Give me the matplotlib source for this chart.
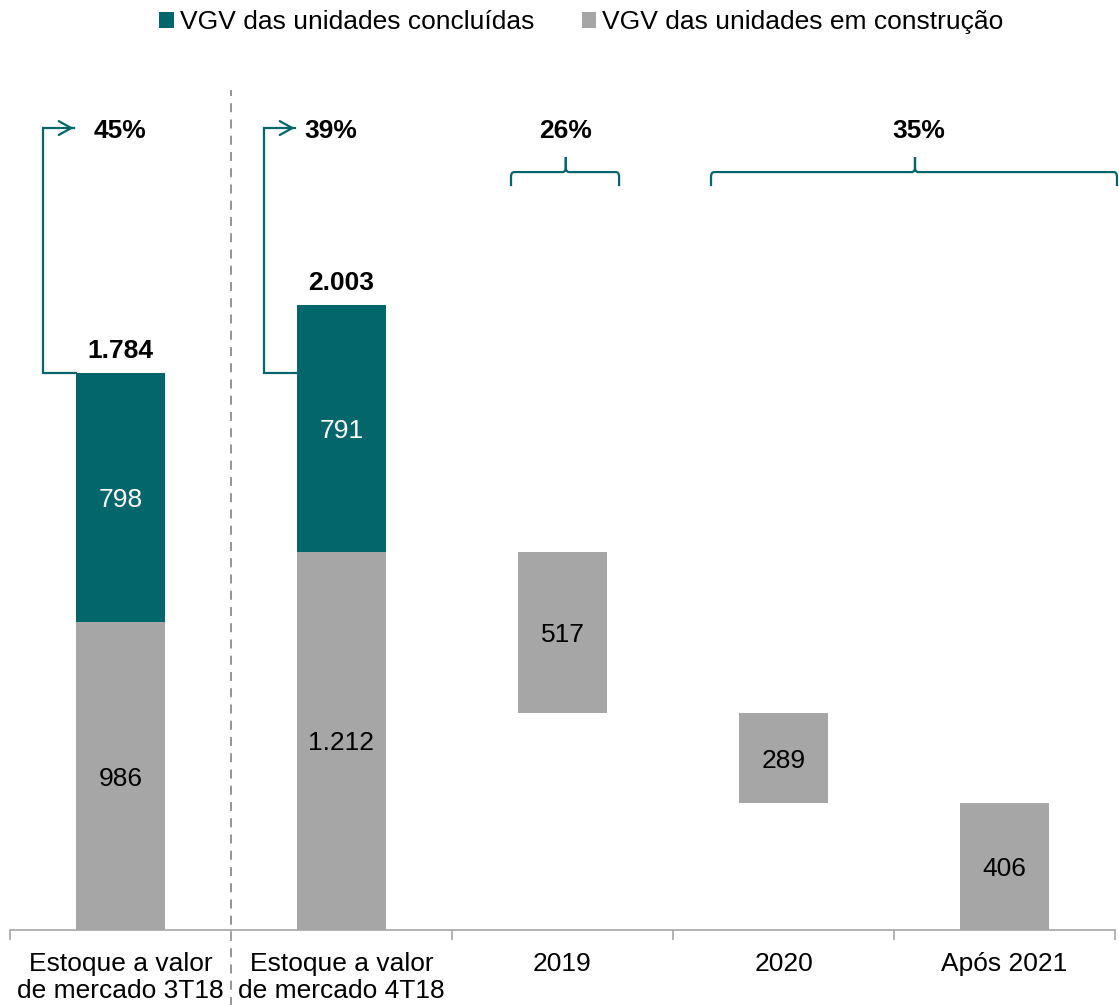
import matplotlib.pyplot as plt
from matplotlib.patches import Patch
from matplotlib.path import Path
from matplotlib.patches import PathPatch

plt.rcParams['font.family'] = ['Liberation Sans', 'DejaVu Sans']

categories = ['Estoque a valor\nde mercado 3T18', 'Estoque a valor\nde mercado 4T18',
              '2019', '2020', 'Após 2021']
gray_vals = [986, 1212, 517, 289, 406]
gray_base = [0, 0, 695, 406, 0]
teal_vals = [798, 791, 0, 0, 0]
totals = ['1.784', '2.003']
gray_labels = ['986', '1.212', '517', '289', '406']
teal_labels = ['798', '791']
pct_labels = ['45%', '39%', '26%', '35%']

TEAL = '#03666A'
GRAY = '#A6A6A6'
FS = 19

fig = plt.figure(figsize=(11.19, 10.05), dpi=100)
ax = fig.add_axes([10 / 1119, 75 / 1005, 1105 / 1119, 870 / 1005])
ax.set_xlim(-0.5, 4.5)
ax.set_ylim(0, 2787)

x = list(range(len(categories)))
w = 0.4
ax.bar(x, gray_vals, w, bottom=gray_base, color=GRAY, zorder=2)
ax.bar(x[:2], teal_vals[:2], w, bottom=gray_vals[:2], color=TEAL, zorder=2)

# labels inside bars
for i in range(5):
    ax.text(i, gray_base[i] + gray_vals[i] / 2 - 8, gray_labels[i], ha='center', va='center',
            fontsize=FS, color='black')
for i in range(2):
    ax.text(i, gray_vals[i] + teal_vals[i] / 2 - 8, teal_labels[i], ha='center', va='center',
            fontsize=FS, color='white')
    ax.text(i, gray_vals[i] + teal_vals[i] + 70, totals[i], ha='center', va='center',
            fontsize=FS, fontweight='bold')

# arrows to percentages
top1 = gray_vals[0] + teal_vals[0]
y_arr = 2569
for i in range(2):
    left = i - w / 2
    xv = left - 0.15
    ax.plot([left, xv, xv, left - 0.01], [top1, top1, y_arr, y_arr], color=TEAL, lw=1.6,
            solid_joinstyle='miter', clip_on=False)
    ax.annotate('', xy=(left, y_arr), xytext=(left - 0.05, y_arr),
                arrowprops=dict(arrowstyle='->,head_length=0.9,head_width=0.5', color=TEAL, lw=1.6))
ax.text(0.0, 2560, pct_labels[0], ha='center', va='center', fontsize=FS, fontweight='bold')
ax.text(0.952, 2560, pct_labels[1], ha='center', va='center', fontsize=FS, fontweight='bold')


def brace(x1, x2, xm, y_low, y_mid, y_top, r=0.015):
    dy = (y_mid - y_low) * 0.35
    verts = [(x1, y_low), (x1, y_mid - dy), (x1, y_mid), (x1 + r, y_mid),
             (xm - r, y_mid), (xm, y_mid), (xm, y_mid + dy), (xm, y_top),
             (xm, y_mid + dy), (xm, y_mid), (xm + r, y_mid),
             (x2 - r, y_mid), (x2, y_mid), (x2, y_mid - dy), (x2, y_low)]
    codes = [Path.MOVETO, Path.LINETO, Path.CURVE3, Path.CURVE3,
             Path.LINETO, Path.CURVE3, Path.CURVE3, Path.LINETO,
             Path.LINETO, Path.CURVE3, Path.CURVE3,
             Path.LINETO, Path.CURVE3, Path.CURVE3, Path.LINETO]
    ax.add_patch(PathPatch(Path(verts, codes), fill=False, edgecolor=TEAL, lw=1.6,
                           clip_on=False))


brace(1.767, 2.256, 2.015, 2383, 2428, 2476)
brace(2.672, 4.509, 3.595, 2383, 2428, 2476)
ax.text(2.015, 2560, pct_labels[2], ha='center', va='center', fontsize=FS, fontweight='bold')
ax.text(3.61, 2560, pct_labels[3], ha='center', va='center', fontsize=FS, fontweight='bold')

# dashed separator
ax.plot([0.5, 0.5], [-245, 2690], color='#8C8C8C', lw=1.3, ls=(0, (5, 4)), clip_on=False, zorder=1)

# axes styling
for s in ['top', 'right', 'left']:
    ax.spines[s].set_visible(False)
ax.spines['bottom'].set_color('#A6A6A6')
ax.spines['bottom'].set_linewidth(1.2)
ax.set_yticks([])
ax.set_xticks(x)
ax.set_xticklabels(categories, fontsize=FS, linespacing=1.17)
ax.tick_params(axis='x', which='major', length=0, pad=16)
ax.set_xticks([i - 0.5 for i in range(6)], minor=True)
ax.tick_params(axis='x', which='minor', length=7, width=1.2, color='#A6A6A6')

handles = [Patch(facecolor=TEAL, label='VGV das unidades concluídas'),
           Patch(facecolor=GRAY, label='VGV das unidades em construção')]
fig.legend(handles=handles, loc='center', bbox_to_anchor=(0.5197, 0.978), ncol=2,
           frameon=False, fontsize=FS, handlelength=0.55, handleheight=0.55,
           handletextpad=0.23, columnspacing=1.8)

fig.savefig('out.png', dpi=100)
